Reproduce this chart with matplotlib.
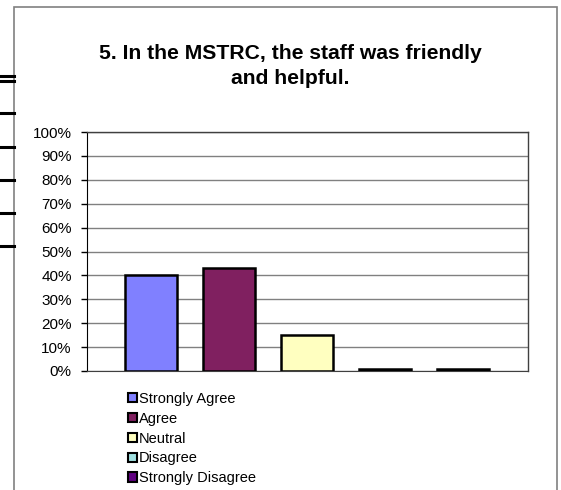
import matplotlib
matplotlib.use("Agg")
import matplotlib.pyplot as plt
from matplotlib.patches import Rectangle, Patch
from matplotlib.lines import Line2D
from matplotlib.ticker import FuncFormatter

plt.rcParams['font.family'] = ['Liberation Sans', 'DejaVu Sans']

categories = ["Strongly Agree", "Agree", "Neutral", "Disagree", "Strongly Disagree"]
values = [40, 43, 15, 1, 1]
colors = ["#8080FF", "#802060", "#FFFFC0", "#A0E0E0", "#600080"]
yticks = [0, 10, 20, 30, 40, 50, 60, 70, 80, 90, 100]
title = "5. In the MSTRC, the staff was friendly\nand helpful."

W, H = 561, 490
fig = plt.figure(figsize=(W / 100, H / 100), dpi=100)

def fx(px):
    return px / W

def fy(py):
    return 1 - py / H

# outer chart frame
fig.add_artist(Rectangle((fx(14), fy(500)), fx(557) - fx(14), fy(7) - fy(500),
                         transform=fig.transFigure, fill=False,
                         edgecolor="#808080", linewidth=1.2))

# stray rule marks at the left margin
for py in [76, 81, 113, 147, 180, 213, 246]:
    fig.add_artist(Line2D([fx(0), fx(14)], [fy(py), fy(py)],
                          transform=fig.transFigure, color="black", linewidth=2.2))

ax = fig.add_axes([fx(87), fy(371), fx(528) - fx(87), fy(132) - fy(371)])
x = list(range(len(categories)))
ax.bar(x, values, width=0.67, color=colors, edgecolor="black", linewidth=1.8, zorder=3)
ax.set_xlim(-0.82, 4.83)
ax.set_ylim(0, 100)
ax.set_yticks(yticks)
ax.yaxis.set_major_formatter(FuncFormatter(lambda v, p: f"{int(v)}%"))
ax.set_xticks([])
ax.tick_params(axis="y", direction="out", length=4, width=1, labelsize=11, pad=7)
ax.grid(axis="y", color="#808080", linewidth=1, zorder=0)
ax.set_axisbelow(True)
for side in ["top", "right"]:
    ax.spines[side].set_color("#404040")
    ax.spines[side].set_linewidth(1)
ax.spines["left"].set_color("black")
ax.spines["bottom"].set_color("#404040")

fig.text(fx(290.5), fy(66), title, ha="center", va="center", fontsize=15.2,
         fontweight="bold", linespacing=1.35)

handles = [Patch(facecolor=c, edgecolor="black", linewidth=1.5) for c in colors]
fig.legend(handles, categories, loc="upper left",
           bbox_to_anchor=(fx(122), fy(386)), frameon=False, fontsize=10.5,
           handlelength=0.6, handleheight=0.6, handletextpad=0.15,
           labelspacing=0.4, borderaxespad=0)

fig.savefig("out.png", dpi=100)
